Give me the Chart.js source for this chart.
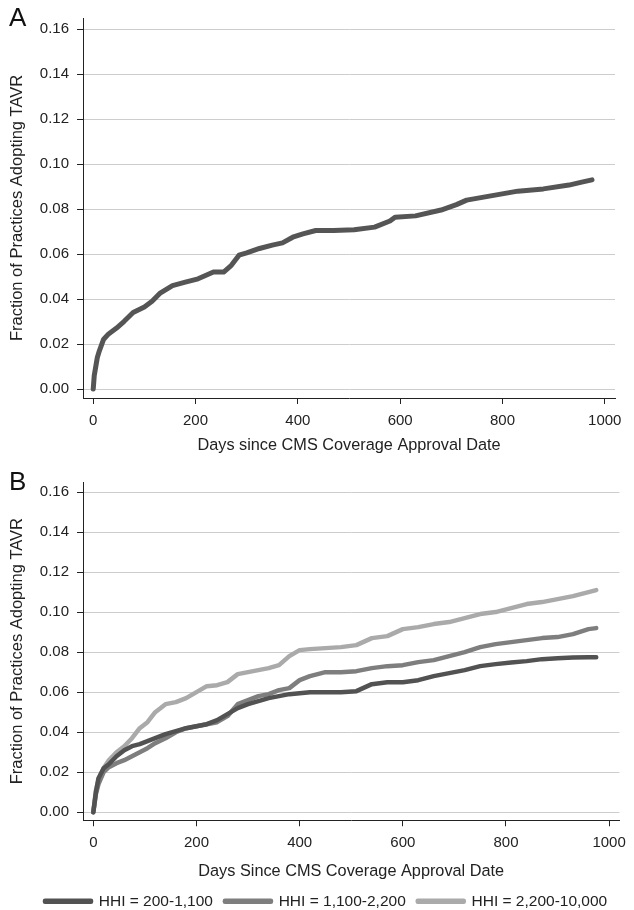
<!DOCTYPE html>
<html lang="en">
<head>
<meta charset="UTF-8">
<title>TAVR adoption by market concentration</title>
<script src="https://cdn.jsdelivr.net/npm/chart.js"></script>
<style>
  html, body { margin: 0; padding: 0; background: #fff; overflow: hidden; }
  canvas { position: absolute; left: 0; }
  .tag { position: absolute; left: 9px; font: 26px 'Liberation Sans', Arial, sans-serif; color: #111; }
</style>
</head>
<body>
<canvas id="chartA" style="top:0" width="634" height="455"></canvas>
<canvas id="chartB" style="top:455px" width="634" height="464"></canvas>
<div class="tag" style="top:2px">A</div>
<div class="tag" style="top:466px">B</div>

<script>
// y ticks (fraction) and x ticks (days)
const fracTicks = [0, 0.02, 0.04, 0.06, 0.08, 0.10, 0.12, 0.14, 0.16];
const dayTicks = [0, 200, 400, 600, 800, 1000];

// panel A: all practices
const aDays = [0, 2, 5, 8, 12, 20, 30, 45, 60, 78, 100, 115, 130, 155, 180, 205, 235, 255, 270, 285,
  300, 325, 350, 370, 390, 410, 435, 470, 510, 550, 580, 590, 630, 680, 710, 730, 780, 830, 880, 930, 955, 975];
const aFrac = [0, 0.006, 0.010, 0.014, 0.017, 0.022, 0.0245, 0.027, 0.030, 0.034, 0.0365, 0.039, 0.0425, 0.046, 0.0475, 0.049, 0.052, 0.052, 0.055, 0.0595,
  0.0605, 0.0625, 0.064, 0.065, 0.0675, 0.069, 0.0705, 0.0705, 0.0708, 0.072, 0.0747, 0.0764, 0.077, 0.0796, 0.082, 0.084, 0.086, 0.088, 0.089, 0.0907, 0.092, 0.093];

// panel B: by HHI group
const bDays = [0, 5, 10, 20, 30, 45, 60, 75, 90, 105, 120, 140, 160, 180, 200, 220, 240, 260, 280, 300,
  320, 340, 360, 380, 400, 420, 450, 480, 510, 540, 570, 600, 630, 660, 690, 720, 750, 780, 810, 840, 870, 900, 930, 960, 975];
const hhiLow = [0, 0.010, 0.017, 0.022, 0.024, 0.028, 0.031, 0.033, 0.034, 0.0355, 0.037, 0.039, 0.0405, 0.042, 0.043, 0.044, 0.046, 0.049, 0.052, 0.054,
  0.0555, 0.057, 0.058, 0.059, 0.0595, 0.060, 0.060, 0.060, 0.0605, 0.064, 0.065, 0.065, 0.066, 0.068, 0.0695, 0.071, 0.073, 0.074, 0.0748, 0.0755, 0.0765, 0.077, 0.0773, 0.0775, 0.0775];
const hhiMid = [0, 0.009, 0.014, 0.020, 0.0225, 0.0245, 0.026, 0.028, 0.030, 0.032, 0.0345, 0.037, 0.040, 0.042, 0.043, 0.044, 0.045, 0.048, 0.054, 0.056,
  0.058, 0.059, 0.061, 0.062, 0.066, 0.068, 0.070, 0.070, 0.0705, 0.072, 0.073, 0.0735, 0.075, 0.076, 0.078, 0.080, 0.0825, 0.084, 0.085, 0.086, 0.087, 0.0875, 0.089, 0.0915, 0.092];
const hhiHigh = [0, 0.011, 0.016, 0.022, 0.026, 0.030, 0.033, 0.037, 0.042, 0.045, 0.050, 0.054, 0.055, 0.057, 0.060, 0.063, 0.0635, 0.065, 0.069, 0.070,
  0.071, 0.072, 0.0735, 0.078, 0.081, 0.0815, 0.082, 0.0825, 0.0835, 0.087, 0.088, 0.0915, 0.0925, 0.094, 0.095, 0.097, 0.099, 0.100, 0.102, 0.104, 0.105, 0.1065, 0.108, 0.110, 0.111];
const hhiLabels = ['HHI = 200-1,100', 'HHI = 1,100-2,200', 'HHI = 2,200-10,000'];

const FONT = "'Liberation Sans', Arial, sans-serif";
const INK = '#222';

function pts(xs, ys) {
  return xs.map((x, i) => ({ x: x, y: ys[i] }));
}

function lineSet(label, xs, ys, color) {
  return {
    label: label,
    data: pts(xs, ys),
    borderColor: color,
    backgroundColor: color,
    borderWidth: 4.5,
    pointRadius: 0,
    tension: 0,
    borderJoinStyle: 'round',
    borderCapStyle: 'round'
  };
}

// pad.left shifts the legend start; the y axis is shrunk so the plot still starts at x=83
function makeOptions(xTitle, pad, xHeight, showLegend) {
  const yWidth = 83 - pad.left;
  return {
    responsive: false,
    animation: false,
    layout: { padding: pad },
    plugins: {
      legend: {
        display: showLegend,
        position: 'bottom',
        align: 'start',
        labels: { boxWidth: 46, boxHeight: 1, padding: 12, color: INK, font: { family: FONT, size: 15.5 } }
      },
      tooltip: { enabled: false }
    },
    scales: {
      x: {
        type: 'linear', min: -20, max: 1020,
        afterBuildTicks: ax => { ax.ticks = dayTicks.map(v => ({ value: v })); },
        afterFit: ax => { ax.height = xHeight; },
        ticks: { autoSkip: false, maxRotation: 0, padding: 8, color: INK, font: { family: FONT, size: 15 }, callback: v => String(v) },
        grid: { drawOnChartArea: false, tickColor: INK, tickLength: 6 },
        border: { color: INK, width: 1 },
        title: { display: true, text: xTitle, color: INK, padding: { top: 0, bottom: 0 }, font: { family: FONT, size: 16.3 } }
      },
      y: {
        min: -0.004, max: 0.165,
        afterBuildTicks: ax => { ax.ticks = fracTicks.map(v => ({ value: v })); },
        afterFit: ax => { ax.width = yWidth; },
        ticks: { padding: 8, color: INK, font: { family: FONT, size: 15 }, callback: v => v.toFixed(2) },
        grid: { color: '#cdcdcd', lineWidth: 1, tickColor: INK, tickLength: 6 },
        border: { color: INK, width: 1 },
        title: { display: true, text: 'Fraction of Practices Adopting TAVR', color: INK,
          padding: { top: 7.5 - pad.left, bottom: 0 }, font: { family: FONT, size: 16.5 } }
      }
    }
  };
}

new Chart(document.getElementById('chartA'), {
  type: 'line',
  data: { datasets: [Object.assign(lineSet('All practices', aDays, aFrac, '#555555'), { borderWidth: 5 })] },
  options: makeOptions('Days since CMS Coverage Approval Date', { left: 0, top: 18, right: 19, bottom: 0 }, 57, false)
});

new Chart(document.getElementById('chartB'), {
  type: 'line',
  data: {
    datasets: [
      lineSet(hhiLabels[0], bDays, hhiLow, '#525252'),
      lineSet(hhiLabels[1], bDays, hhiMid, '#7e7e7e'),
      lineSet(hhiLabels[2], bDays, hhiHigh, '#aaaaaa')
    ]
  },
  options: makeOptions('Days Since CMS Coverage Approval Date', { left: 33, top: 27, right: 10, bottom: 0 }, 61.25, true)
});
</script>
</body>
</html>
